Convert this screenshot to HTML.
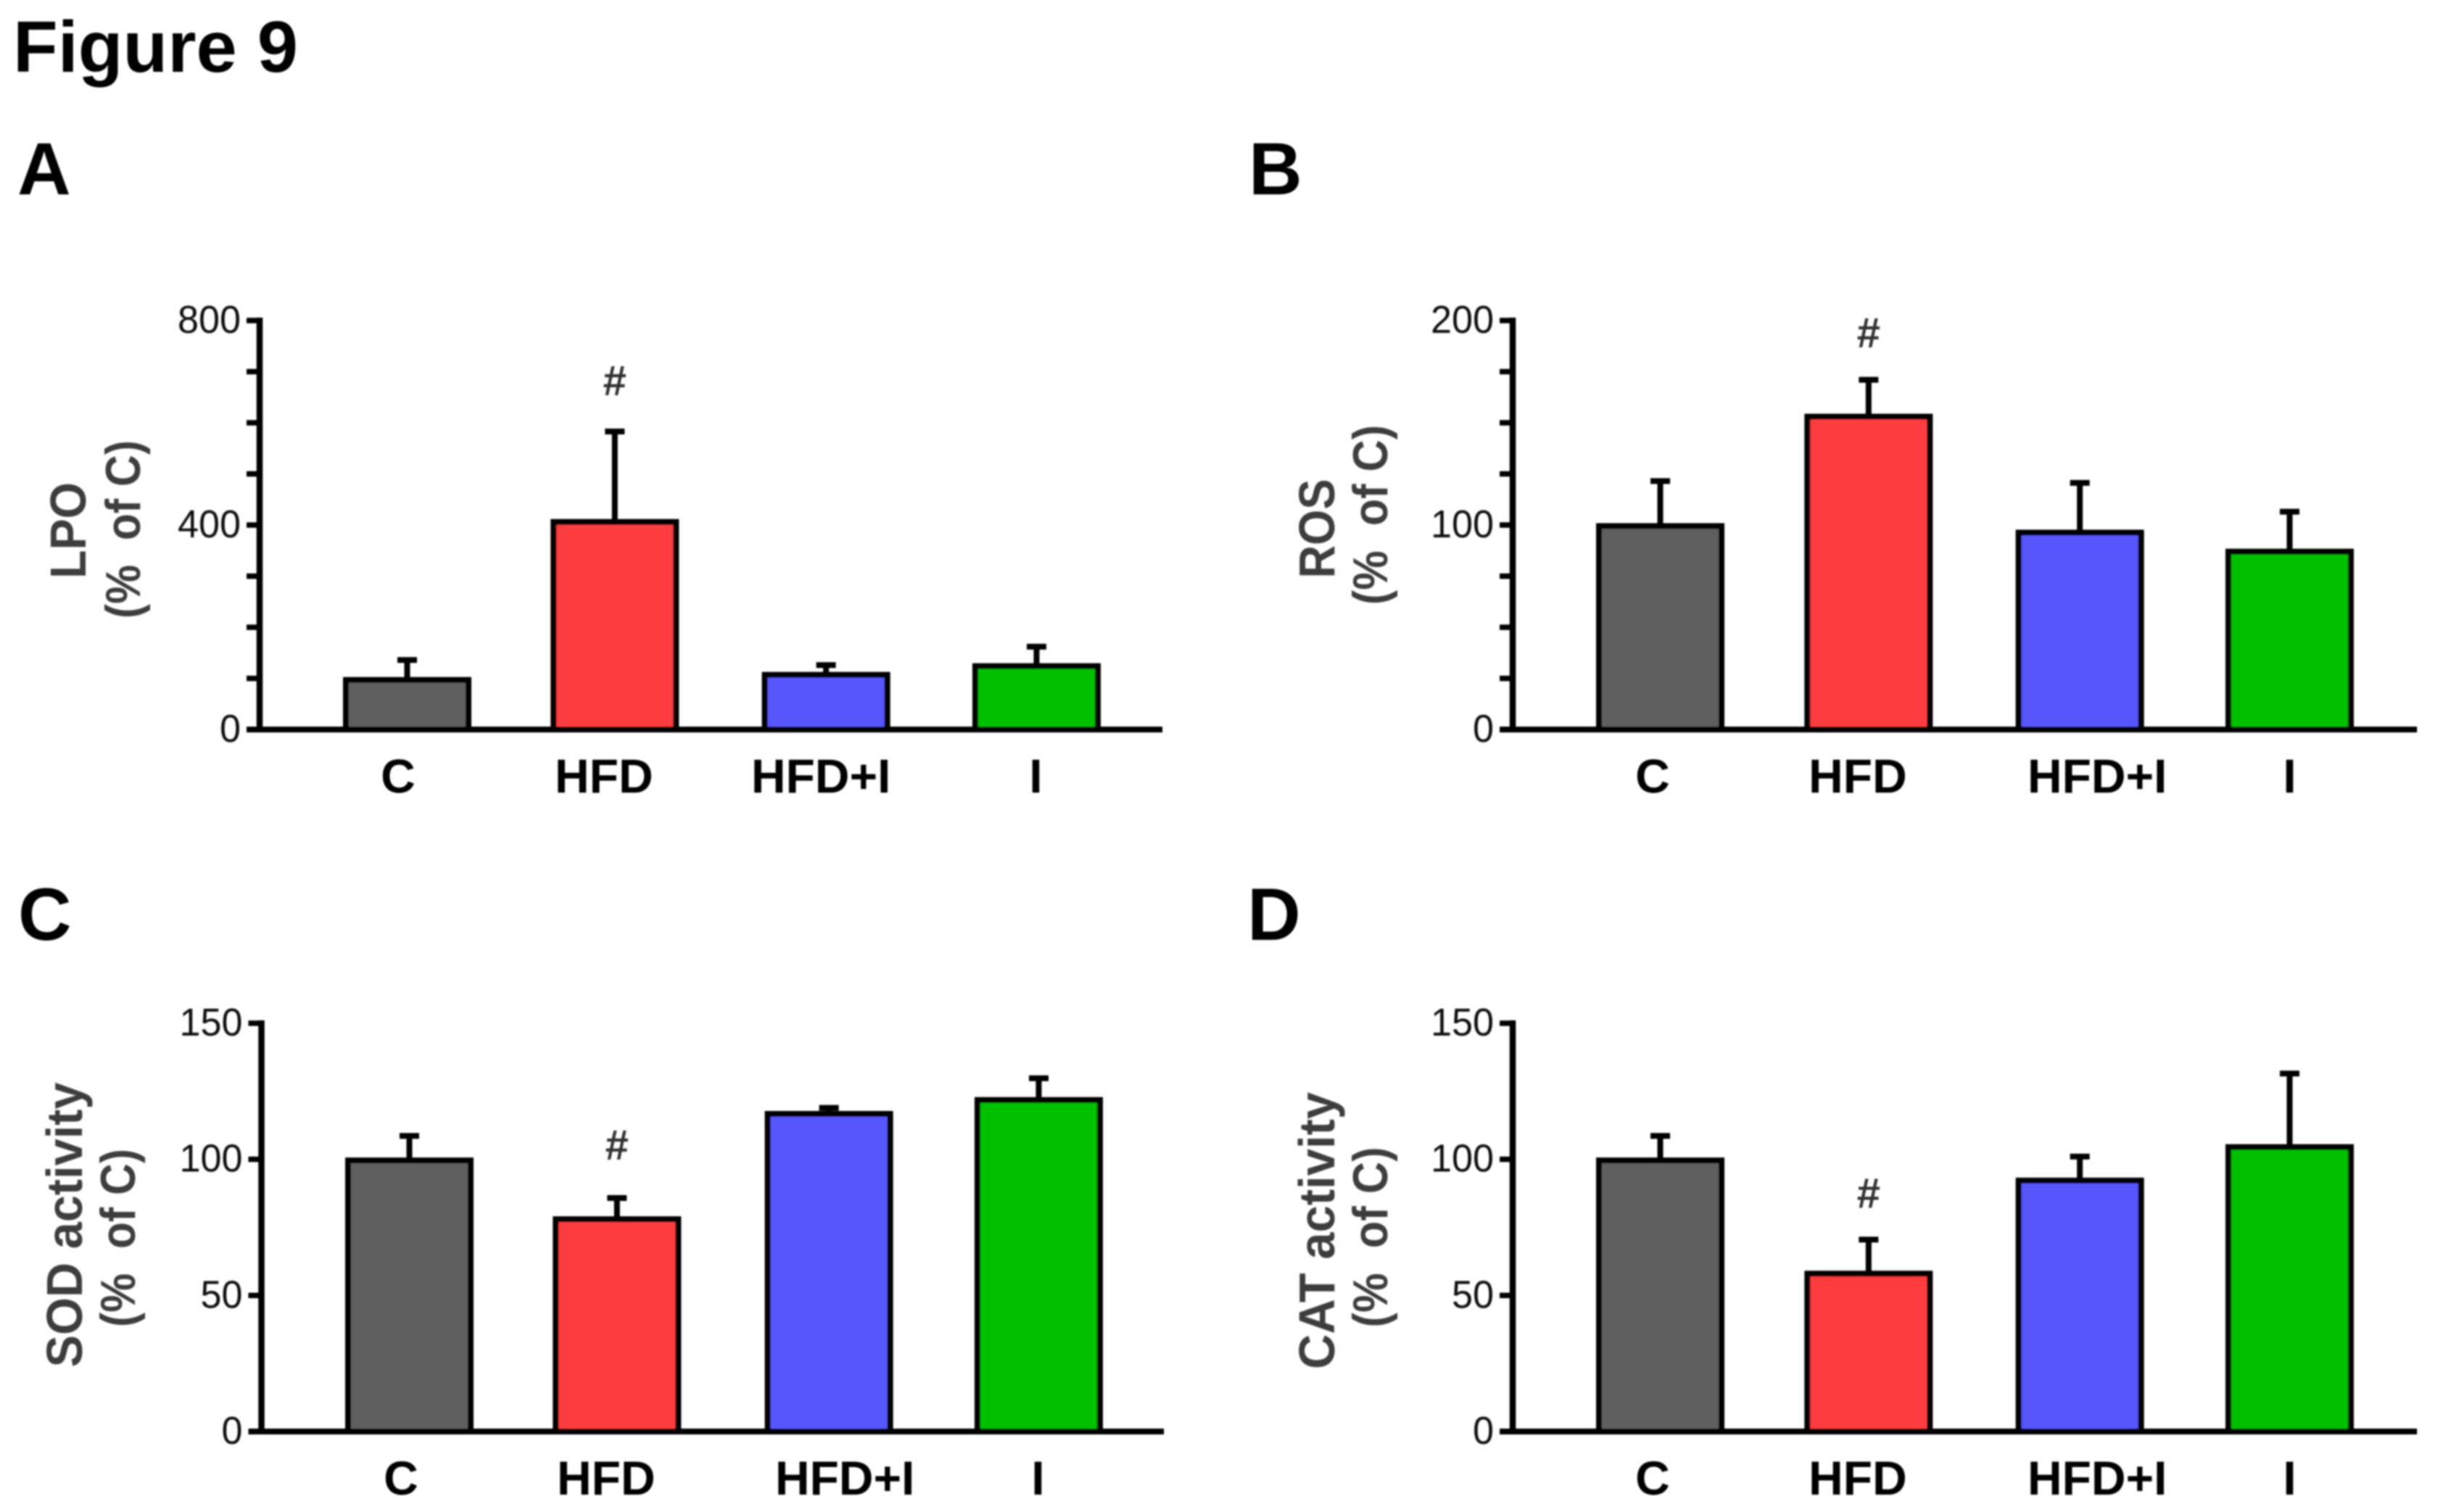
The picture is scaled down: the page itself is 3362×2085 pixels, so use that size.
<!DOCTYPE html>
<html lang="en">
<head>
<meta charset="utf-8">
<title>Figure 9</title>
<style>
html,body{margin:0;padding:0;background:#fff;}
svg{display:block;font-family:"Liberation Sans",Arial,sans-serif;}
</style>
</head>
<body>
<svg id="figure" xmlns="http://www.w3.org/2000/svg" width="3362" height="2085" viewBox="0 0 3362 2085">
  <defs><filter id="soft" x="-2%" y="-2%" width="104%" height="104%"><feGaussianBlur stdDeviation="1"/></filter></defs>
  <rect width="3362" height="2085" fill="#ffffff"/>
  <g id="root" filter="url(#soft)">
    <text x="18" y="99" font-size="100" font-weight="700" textLength="393" lengthAdjust="spacingAndGlyphs">Figure 9</text>
    <text x="24" y="268" font-size="102" font-weight="700">A</text>
    <text x="1722" y="268" font-size="102" font-weight="700">B</text>
    <text x="25" y="1296" font-size="102" font-weight="700">C</text>
    <text x="1720" y="1296" font-size="102" font-weight="700">D</text>
  </g>
</svg>
<script>
// ---- chart data ----
const categories = ['C', 'HFD', 'HFD+I', 'I'];
const lpoValues = [97, 406, 107, 124];
const lpoErrors = [39, 177, 19, 38];
const lpoTicks = [0, 400, 800];
const rosValues = [99.5, 153, 96.3, 87];
const rosErrors = [22, 18, 24.3, 19.5];
const rosTicks = [0, 100, 200];
const sodValues = [99.6, 78, 116.7, 121.8];
const sodErrors = [9, 7.8, 2.2, 8];
const sodTicks = [0, 50, 100, 150];
const catValues = [99.6, 58, 92.2, 104.5];
const catErrors = [9, 12.5, 8.8, 27];
const catTicks = [0, 50, 100, 150];
const hashCategory = 'HFD';

// ---- styling and layout ----
const barColors = ['#5f5f61', '#fc3e40', '#5757fb', '#00c000'];
const BAR_WIDTH = 177, BAR_STEP = 289.3, BAR_STROKE = 8;
const NS = 'http://www.w3.org/2000/svg';
const root = document.getElementById('root');

const panels = [
  {key:'lpo', values:lpoValues, errors:lpoErrors, ticks:lpoTicks, minorStep:100,
   axisX:358, top:442, bottom:1006, right:1603, firstBar:473, barNudge:[0,-3,-1,0], labelY:1093,
   labelDx:[-12.5,-15,-7,-1], hashGap:50,
   title:'LPO', titleX:118, titleY:731.5, titleLen:133,
   subX:193, subY:730, subLen:246},
  {key:'ros', values:rosValues, errors:rosErrors, ticks:rosTicks, minorStep:25,
   axisX:2086, top:442, bottom:1006, right:3333, firstBar:2201, barNudge:[0,-2,0,0], labelY:1093,
   labelDx:[-10.5,-15,24,0], hashGap:45,
   title:'ROS', titleX:1840, titleY:729, titleLen:137,
   subX:1913, subY:710, subLen:248},
  {key:'sod', values:sodValues, errors:sodErrors, ticks:sodTicks, minorStep:50,
   axisX:360.5, top:1411, bottom:1974, right:1605, firstBar:476, barNudge:[0,-3,0,0], labelY:2061,
   labelDx:[-11.5,-15,22,-1], hashGap:53,
   title:'SOD activity', titleX:113, titleY:1689, titleLen:393,
   subX:186, subY:1707, subLen:246},
  {key:'cat', values:catValues, errors:catErrors, ticks:catTicks, minorStep:50,
   axisX:2086, top:1411, bottom:1974, right:3333, firstBar:2201, barNudge:[0,-2,0,0], labelY:2061,
   labelDx:[-10.5,-15,24,0], hashGap:44,
   title:'CAT activity', titleX:1840, titleY:1697, titleLen:382,
   subX:1913, subY:1706, subLen:249}
];

function mk(tag, attrs, parent) {
  const node = document.createElementNS(NS, tag);
  for (const k in attrs) node.setAttribute(k, attrs[k]);
  parent.appendChild(node);
  return node;
}

panels.forEach(function (p) {
  const maxTick = p.ticks[p.ticks.length - 1];
  const y = function (v) { return p.bottom - (v / maxTick) * (p.bottom - p.top); };
  const barLeft = function (i) { return p.firstBar + i * BAR_STEP + p.barNudge[i]; };

  const g = mk('g', {}, root);
  
  

  categories.forEach(function (cat, i) {
    const cx = barLeft(i) + BAR_WIDTH / 2;
    const errTop = y(p.values[i] + p.errors[i]);

    const stem = mk('line', {x1:cx, x2:cx, y1:y(p.values[i]), y2:errTop, stroke:'#000', 'stroke-width':8}, g);
    
    

    const cap = mk('line', {x1:cx - 13.5, x2:cx + 13.5, y1:errTop, y2:errTop, stroke:'#000', 'stroke-width':8}, g);
    
    

    const bar = mk('rect', {
      x: barLeft(i) + BAR_STROKE / 2, y: y(p.values[i]),
      width: BAR_WIDTH - BAR_STROKE, height: p.bottom - y(p.values[i]),
      fill: barColors[i], stroke: '#000', 'stroke-width': BAR_STROKE
    }, g);
    
    

    const label = mk('text', {
      x: cx + p.labelDx[i], y: p.labelY, 'font-size': 66, 'font-weight': 700, 'text-anchor': 'middle'
    }, g);
    label.textContent = cat;
    
    

    if (cat === hashCategory) {
      const hash = mk('text', {
        x: cx, y: errTop - p.hashGap, 'font-size': 58, 'font-weight': 700,
        'text-anchor': 'middle', fill: '#333'
      }, g);
      hash.textContent = '#';
      
      
    }
  });

  for (let v = 0; v <= maxTick; v += p.minorStep) {
    const tick = mk('line', {x1:p.axisX - 18, x2:p.axisX, y1:y(v), y2:y(v), stroke:'#000', 'stroke-width':7.5}, g);
    
    
  }

  p.ticks.forEach(function (v) {
    const s = String(v);
    const t = mk('text', {
      x: p.axisX - 26, y: y(v) + 17, 'font-size': 54, 'text-anchor': 'end', fill: '#111',
      textLength: s.length * 29, lengthAdjust: 'spacingAndGlyphs'
    }, g);
    t.textContent = s;
    
    
  });

  const yAxis = mk('line', {x1:p.axisX, x2:p.axisX, y1:p.top - 4, y2:p.bottom + 4, stroke:'#000', 'stroke-width':8.5}, g);
  
  

  const xAxis = mk('line', {x1:p.axisX - 18, x2:p.right, y1:p.bottom, y2:p.bottom, stroke:'#000', 'stroke-width':8}, g);
  
  

  const title = mk('text', {
    transform: 'translate(' + p.titleX + ' ' + p.titleY + ') rotate(-90)',
    'font-size': 70, 'font-weight': 700, 'text-anchor': 'middle', fill: '#3e3e3e',
    textLength: p.titleLen, lengthAdjust: 'spacingAndGlyphs'
  }, g);
  title.textContent = p.title;
  
  

  const sub = mk('text', {
    transform: 'translate(' + p.subX + ' ' + p.subY + ') rotate(-90)',
    'font-size': 68, 'font-weight': 700, 'text-anchor': 'middle', fill: '#3e3e3e',
    textLength: p.subLen, lengthAdjust: 'spacingAndGlyphs', style: 'white-space:pre'
  }, g);
  sub.textContent = '(%  of C)';
  
  
});
</script>
</body>
</html>
